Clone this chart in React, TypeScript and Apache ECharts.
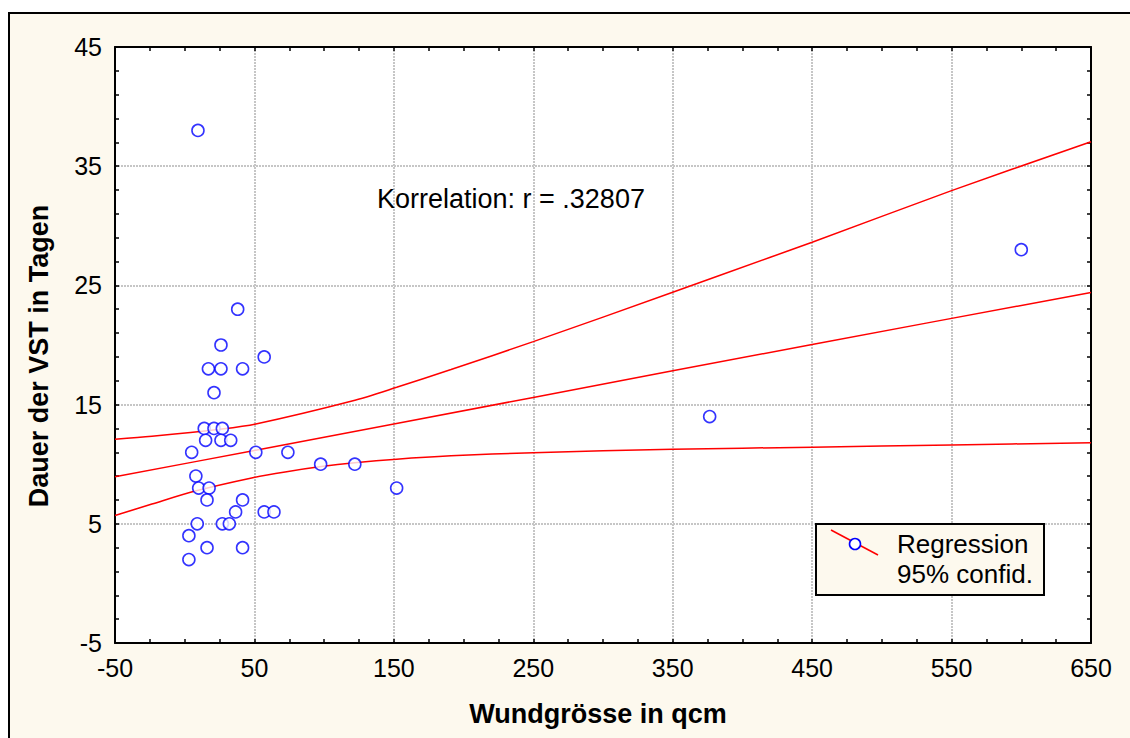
import React, { useEffect, useRef } from 'react';
import * as echarts from 'echarts';

// Scatter data: Wundgrösse (qcm) vs. Dauer der VST (Tage)
const woundSize = [9.5, 600, 376.5, 38, 57, 26, 17, 26, 41.5, 21, 14, 21, 27, 15, 26, 33, 5, 51, 74, 97.5, 122, 8, 10, 17.5, 152, 16, 41.5, 36.5, 57, 64, 9, 27, 32, 3, 16, 41.5, 3];
const vstDays = [38, 28, 14, 23, 19, 20, 18, 18, 18, 16, 13, 13, 13, 12, 12, 12, 11, 11, 11, 10, 10, 9, 8, 8, 8, 7, 7, 6, 6, 6, 5, 5, 5, 4, 3, 3, 2];

// Regression line and 95% confidence band
const regressionLine = [[-50, 8.95], [50, 11.15], [250, 15.6], [450, 20.05], [650, 24.4]];
const upperConfidence = [[-50, 12.1], [-23.5, 12.34], [26.6, 12.95], [51, 13.37], [120, 15.3], [152, 16.45], [191, 17.95], [250, 20.28], [350, 24.42], [420, 27.36], [450, 28.62], [550, 32.95], [650, 37.05]];
const lowerConfidence = [[-50, 5.7], [-23.5, 6.66], [7.5, 7.75], [48, 8.85], [72, 9.35], [98, 9.8], [122, 10.12], [152, 10.42], [191, 10.7], [250, 10.97], [350, 11.25], [450, 11.43], [550, 11.62], [650, 11.8]];

// Tick labels
const xTickLabels = [-50, 50, 150, 250, 350, 450, 550, 650];
const yTickLabels = [-5, 5, 15, 25, 35, 45];
const xMinorTicks = [-50, -25, 0, 25, 50, 75, 100, 125, 150, 175, 200, 225, 250, 275, 300, 325, 350, 375, 400, 425, 450, 475, 500, 525, 550, 575, 600, 625, 650];
const yMinorTicks = [-5, -3, -1, 1, 3, 5, 7, 9, 11, 13, 15, 17, 19, 21, 23, 25, 27, 29, 31, 33, 35, 37, 39, 41, 43, 45];

const xTitle = 'Wundgrösse in qcm';
const yTitle = 'Dauer der VST in Tagen';
const corrText = 'Korrelation: r = .32807';
const legendLabels = ['Regression', '95% confid.'];

const FONT = '"Liberation Sans", Arial, Helvetica, sans-serif';

export default function App() {
  const ref = useRef<HTMLDivElement>(null);

  useEffect(() => {
    if (!ref.current) return;
    const chart = echarts.init(ref.current, undefined, { renderer: 'svg' });

    const axisLineStyle = { color: '#000', width: 2 };
    const tickStyle = { color: '#000', width: 1.5 };
    const gridLine = { show: true, lineStyle: { color: '#c6c6c6', width: 2, type: [2, 1] as any } };
    const baseX = { type: 'value' as const, min: -50, max: 650, gridIndex: 0 };
    const baseY = { type: 'value' as const, min: -5, max: 45, gridIndex: 0 };

    const redLine = (name: string, data: number[][]) => ({
      name,
      type: 'line',
      data,
      xAxisIndex: 0,
      yAxisIndex: 0,
      showSymbol: false,
      symbol: 'none',
      smooth: 0.3,
      lineStyle: { color: '#ff0000', width: 1.5 },
      z: 2,
      silent: true,
    });

    chart.setOption({
      animation: false,
      backgroundColor: '#ffffff',
      grid: {
        left: 115,
        top: 47,
        width: 976,
        height: 596,
        show: true,
        backgroundColor: '#ffffff',
        borderWidth: 0,
      },
      xAxis: [
        {
          ...baseX,
          position: 'bottom',
          axisLine: { show: true, onZero: false, lineStyle: axisLineStyle },
          axisTick: { show: false, customValues: xTickLabels },
          axisLabel: { customValues: xTickLabels, color: '#000', fontSize: 25, fontFamily: FONT, margin: 12 },
          splitLine: gridLine,
        },
        {
          ...baseX,
          position: 'bottom',
          axisLine: { show: false, onZero: false },
          axisTick: { show: true, inside: true, length: 4, customValues: xMinorTicks, lineStyle: tickStyle },
          axisLabel: { show: false },
          splitLine: { show: false },
        },
        {
          ...baseX,
          position: 'top',
          axisLine: { show: true, onZero: false, lineStyle: axisLineStyle },
          axisTick: { show: true, inside: true, length: 4, customValues: xMinorTicks, lineStyle: tickStyle },
          axisLabel: { show: false },
          splitLine: { show: false },
        },
      ],
      yAxis: [
        {
          ...baseY,
          position: 'left',
          axisLine: { show: true, onZero: false, lineStyle: axisLineStyle },
          axisTick: { show: false, customValues: yTickLabels },
          axisLabel: { customValues: yTickLabels, color: '#000', fontSize: 25, fontFamily: FONT, margin: 13 },
          splitLine: gridLine,
        },
        {
          ...baseY,
          position: 'left',
          axisLine: { show: false, onZero: false },
          axisTick: { show: true, inside: true, length: 4, customValues: yMinorTicks, lineStyle: tickStyle },
          axisLabel: { show: false },
          splitLine: { show: false },
        },
        {
          ...baseY,
          position: 'right',
          axisLine: { show: true, onZero: false, lineStyle: axisLineStyle },
          axisTick: { show: true, inside: true, length: 4, customValues: yMinorTicks, lineStyle: tickStyle },
          axisLabel: { show: false },
          splitLine: { show: false },
        },
      ],
      series: [
        redLine('Regression', regressionLine),
        redLine('95% confid. upper', upperConfidence),
        redLine('95% confid. lower', lowerConfidence),
        {
          name: 'Daten',
          type: 'scatter',
          xAxisIndex: 0,
          yAxisIndex: 0,
          data: woundSize.map((x, i) => [x, vstDays[i]]),
          symbol: 'circle',
          symbolSize: 12,
          itemStyle: { color: '#ffffff', borderColor: '#0000ff', borderWidth: 1.6 },
          z: 3,
          silent: true,
        },
      ],
      graphic: [
        {
          type: 'rect',
          z: -10,
          silent: true,
          shape: { x: 9, y: 13, width: 1200, height: 800 },
          style: { fill: '#fdf9ee', stroke: '#000', lineWidth: 2 },
        },
        {
          type: 'text',
          z: 100,
          x: 377,
          y: 199,
          style: { text: corrText, fill: '#000', fontSize: 27, fontFamily: FONT, textAlign: 'left', verticalAlign: 'middle' },
        },
        {
          type: 'text',
          z: 100,
          x: 598,
          y: 714,
          style: { text: xTitle, fill: '#000', fontSize: 27, fontWeight: 'bold', fontFamily: FONT, textAlign: 'center', verticalAlign: 'middle' },
        },
        {
          type: 'text',
          z: 100,
          x: 39,
          y: 356,
          rotation: Math.PI / 2,
          style: { text: yTitle, fill: '#000', fontSize: 27, fontWeight: 'bold', fontFamily: FONT, textAlign: 'center', verticalAlign: 'middle' },
        },
        {
          type: 'rect',
          z: 100,
          shape: { x: 816, y: 524, width: 228, height: 71 },
          style: { fill: '#fdf9ee', stroke: '#000', lineWidth: 2 },
        },
        {
          type: 'line',
          z: 101,
          shape: { x1: 831, y1: 530, x2: 878, y2: 555 },
          style: { stroke: '#ff0000', lineWidth: 1.5 },
        },
        {
          type: 'circle',
          z: 102,
          shape: { cx: 855, cy: 544, r: 5.5 },
          style: { fill: '#ffffff', stroke: '#0000ff', lineWidth: 1.6 },
        },
        {
          type: 'text',
          z: 101,
          x: 897,
          y: 544,
          style: { text: legendLabels[0], fill: '#000', fontSize: 26, fontFamily: FONT, textAlign: 'left', verticalAlign: 'middle' },
        },
        {
          type: 'text',
          z: 101,
          x: 897,
          y: 574,
          style: { text: legendLabels[1], fill: '#000', fontSize: 26, fontFamily: FONT, textAlign: 'left', verticalAlign: 'middle' },
        },
      ],
    });

    return () => {
      chart.dispose();
    };
  }, []);

  return (
    <div
      ref={ref}
      style={{ position: 'fixed', left: 0, top: 0, width: 1130, height: 738 }}
    />
  );
}
